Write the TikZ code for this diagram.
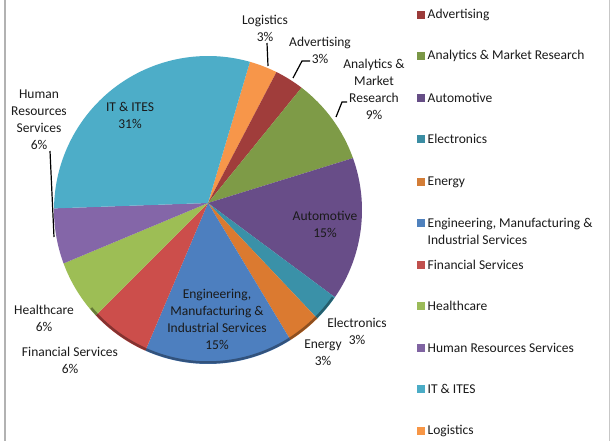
\documentclass[tikz,border=0pt]{standalone}
\usepackage{fontspec}
\setmainfont{Carlito}
\usetikzlibrary{calc}
\definecolor{cAdv}{HTML}{A03D3B}
\definecolor{cAna}{HTML}{7E9B47}
\definecolor{cAut}{HTML}{684D88}
\definecolor{cEle}{HTML}{3A91A8}
\definecolor{cEne}{HTML}{DB7A30}
\definecolor{cEng}{HTML}{4D7FBF}
\definecolor{cFin}{HTML}{CC4E4B}
\definecolor{cHea}{HTML}{9DBE55}
\definecolor{cHR}{HTML}{8466A8}
\definecolor{cIT}{HTML}{4DADC8}
\definecolor{cLog}{HTML}{F7964A}
\definecolor{lAdv}{HTML}{9B3B3A}
\definecolor{lAna}{HTML}{7A9746}
\definecolor{lAut}{HTML}{664E86}
\definecolor{lEle}{HTML}{3B8DA3}
\definecolor{lEne}{HTML}{D37D37}
\definecolor{lEng}{HTML}{4F81BD}
\definecolor{lFin}{HTML}{C0504D}
\definecolor{lHea}{HTML}{9BBB59}
\definecolor{lHR}{HTML}{8064A2}
\definecolor{lIT}{HTML}{4BACC6}
\definecolor{lLog}{HTML}{F79646}
\definecolor{txt}{HTML}{1A1A1A}
\tikzset{
  lbl/.style={font=\fontsize{13.5}{17}\selectfont, text=txt, align=center, inner sep=0pt},
  legtxt/.style={font=\fontsize{13.5}{17}\selectfont, text=txt, align=left, inner sep=0pt, anchor=west},
  swatch/.style={minimum width=8pt, minimum height=8pt, inner sep=0pt, draw=none},
  leader/.style={draw=black, line width=1.2pt},
  frameline/.style={draw=#1}
}
\newcommand{\pieslice}[3]{%
  \fill[#3] (P) -- ($(C)+(#1:154)$) arc[start angle=#1, end angle=#2, radius=154] -- cycle;}
\begin{document}
\begin{tikzpicture}[x=1pt,y=-1pt]
\useasboundingbox (0,0) rectangle (610,441);
\fill[white] (0,0) rectangle (610,441);
\draw[frameline={black!30}, line width=2pt] (5,0) -- (5,441);
\draw[frameline={black!22}, line width=1pt] (609,0) -- (609,441);
\coordinate (C) at (208,210);
\coordinate (P) at (208,203);
% slices
\pieslice{-74.2}{-63.6}{cLog}
\pieslice{-63.6}{-52.6}{cAdv}
\pieslice{-52.6}{-19.7}{cAna}
\pieslice{-19.7}{34.5}{cAut}
\pieslice{34.5}{44.8}{cEle}
\pieslice{44.8}{57.6}{cEne}
\pieslice{57.6}{114.0}{cEng}
\pieslice{114.0}{136.8}{cFin}
\pieslice{136.8}{159.7}{cHea}
\pieslice{159.7}{180.6}{cHR}
\pieslice{180.6}{285.8}{cIT}
% bottom rim shade
\draw[black, opacity=0.35, line width=2.5pt] ($(C)+(35:152.5)$) arc[start angle=35, end angle=140, radius=152.5];
% pie labels
\node[lbl] (tLog) at (265,28.5) {Logistics\\3\%};
\node[lbl] (tAdv) at (320,50) {Advertising\\3\%};
\node[lbl] (tAna) at (374,89.5) {Analytics \&\\Market\\Research\\9\%};
\node[lbl] (tAut) at (325,224) {Automotive\\15\%};
\node[lbl] (tEle) at (357,331.5) {Electronics\\3\%};
\node[lbl] (tEne) at (323,353) {Energy\\3\%};
\node[lbl] (tEng) at (217,319.5) {Engineering,\\Manufacturing \&\\Industrial Services\\15\%};
\node[lbl] (tFin) at (70,360) {Financial Services\\6\%};
\node[lbl] (tHea) at (44,318.5) {Healthcare\\6\%};
\node[lbl] (tHR) at (39,120) {Human\\Resources\\Services\\6\%};
\node[lbl] (tIT) at (130,115.5) {IT \& ITES\\31\%};
% leader lines
\coordinate (lLa) at (267,43);
\coordinate (lLb) at (268,66);
\draw[leader] (lLa) -- (lLb);
\coordinate (lAa) at (310,61);
\coordinate (lAb) at (302,61);
\coordinate (lAc) at (293,78);
\draw[leader] (lAa) -- (lAb) -- (lAc);
\coordinate (lNa) at (347,102);
\coordinate (lNb) at (342,102);
\coordinate (lNc) at (336,117);
\draw[leader] (lNa) -- (lNb) -- (lNc);
\coordinate (lHa) at (50,151);
\coordinate (lHb) at (54,237);
\draw[leader] (lHa) -- (lHb);
% legend
\node[swatch, fill=lAdv] (sAdv) at (421,15) {};
\node[legtxt] (gAdv) at (427.5,15) {Advertising};
\node[swatch, fill=lAna] (sAna) at (421,56) {};
\node[legtxt] (gAna) at (427.5,56) {Analytics \& Market Research};
\node[swatch, fill=lAut] (sAut) at (421,98) {};
\node[legtxt] (gAut) at (427.5,98) {Automotive};
\node[swatch, fill=lEle] (sEle) at (421,139) {};
\node[legtxt] (gEle) at (427.5,139) {Electronics};
\node[swatch, fill=lEne] (sEne) at (421,182) {};
\node[legtxt] (gEne) at (427.5,182) {Energy};
\node[swatch, fill=lEng] (sEng) at (421,223) {};
\node[legtxt] (gEng) at (427.5,231.5) {Engineering, Manufacturing \&\\Industrial Services};
\node[swatch, fill=lFin] (sFin) at (421,265) {};
\node[legtxt] (gFin) at (427.5,265) {Financial Services};
\node[swatch, fill=lHea] (sHea) at (421,306) {};
\node[legtxt] (gHea) at (427.5,306) {Healthcare};
\node[swatch, fill=lHR] (sHR) at (421,348) {};
\node[legtxt] (gHR) at (427.5,348) {Human Resources Services};
\node[swatch, fill=lIT] (sIT) at (421,389) {};
\node[legtxt] (gIT) at (427.5,389) {IT \& ITES};
\node[swatch, fill=lLog] (sLog) at (421,431) {};
\node[legtxt] (gLog) at (427.5,431) {Logistics};
\end{tikzpicture}
\end{document}
